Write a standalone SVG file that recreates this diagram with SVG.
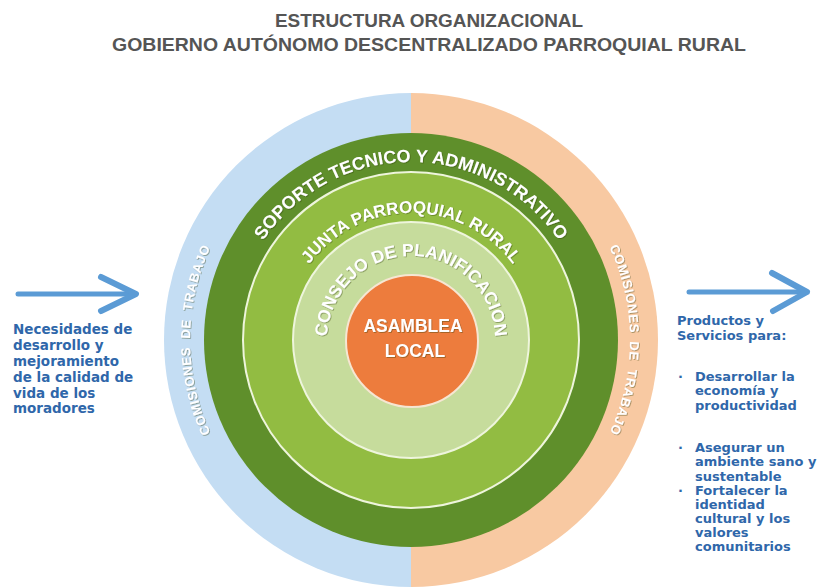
<svg xmlns="http://www.w3.org/2000/svg" width="827" height="587" viewBox="0 0 827 587">
<style>
.title{font-family:"Liberation Sans",Arial,sans-serif;font-weight:bold;font-size:19px;fill:#555555;text-anchor:middle}
.ring{font-family:"Liberation Sans",Arial,sans-serif;font-weight:bold;fill:#ffffff;filter:url(#sh)}
.side{font-family:"DejaVu Sans",Verdana,sans-serif;font-weight:bold;fill:#2f67aa}
.arrow{fill:none;stroke:#5b9bd5;stroke-linecap:round;stroke-linejoin:round}
.sep{fill:none;stroke:#eef5dc;stroke-width:2}
</style>
<defs>
<filter id="sh" x="-10%" y="-10%" width="120%" height="120%">
<feDropShadow dx="0.8" dy="0.8" stdDeviation="0.7" flood-color="#2a3a10" flood-opacity="0.45"/>
</filter>
<clipPath id="leftHalf"><rect x="0" y="0" width="411" height="587"/></clipPath>
<clipPath id="rightHalf"><rect x="411" y="0" width="416" height="587"/></clipPath>
<path id="pSoporte" d="M411,518 A178,178 0 0 1 411,162 A178,178 0 0 1 411,518"/>
<path id="pJunta" d="M411,467 A127,127 0 0 1 411,213 A127,127 0 0 1 411,467"/>
<path id="pConsejo" d="M411,424 A84,84 0 0 1 411,256 A84,84 0 0 1 411,424"/>
<path id="pComL" d="M632,340 A221,221 0 0 1 190,340 A221,221 0 0 1 632,340"/>
<path id="pComR" d="M192,340 A219,219 0 0 1 630,340 A219,219 0 0 1 192,340"/>
</defs>
<rect width="827" height="587" fill="#ffffff"/>

<g id="title">
<text class="title" x="429" y="27" textLength="308" lengthAdjust="spacingAndGlyphs">ESTRUCTURA ORGANIZACIONAL</text>
<text class="title" x="429" y="51" textLength="634" lengthAdjust="spacingAndGlyphs">GOBIERNO AUTÓNOMO DESCENTRALIZADO PARROQUIAL RURAL</text>
</g>

<g id="comisiones">
<circle cx="411" cy="340" r="247" fill="#c4ddf3" clip-path="url(#leftHalf)"/>
<circle cx="411" cy="340" r="247" fill="#f8c9a2" clip-path="url(#rightHalf)"/>
<text class="ring" font-size="13" letter-spacing="0.6" word-spacing="4"><textPath href="#pComL" startOffset="50%" text-anchor="middle">COMISIONES DE TRABAJO</textPath></text>
<text class="ring" font-size="13" letter-spacing="0.6" word-spacing="4"><textPath href="#pComR" startOffset="50%" text-anchor="middle">COMISIONES DE TRABAJO</textPath></text>
</g>

<g id="soporte">
<circle cx="411" cy="340" r="207" fill="#5f8f2b"/>
<text class="ring" font-size="18"><textPath href="#pSoporte" startOffset="50%" text-anchor="middle">SOPORTE TECNICO Y ADMINISTRATIVO</textPath></text>
</g>

<g id="junta">
<circle cx="411" cy="340" r="168" fill="#92bc42"/>
<circle class="sep" cx="411" cy="340" r="168"/>
<text class="ring" font-size="17"><textPath href="#pJunta" startOffset="50%" text-anchor="middle">JUNTA PARROQUIAL RURAL</textPath></text>
</g>

<g id="consejo">
<circle cx="411" cy="340" r="118" fill="#c6dc9c"/>
<circle class="sep" cx="411" cy="340" r="118"/>
<text class="ring" font-size="17.5"><textPath href="#pConsejo" startOffset="50%" text-anchor="middle">CONSEJO DE PLANIFICACION</textPath></text>
</g>

<g id="asamblea">
<circle cx="412" cy="341" r="66" fill="#ed7c3d" stroke="#f6e6d2" stroke-width="2"/>
<text class="ring" font-size="17.5" text-anchor="middle" x="413" y="332">ASAMBLEA</text>
<text class="ring" font-size="17.5" text-anchor="middle" x="415" y="357">LOCAL</text>
</g>

<g id="entrada">
<text class="side" font-size="13.5">
<tspan x="13" y="334">Necesidades de</tspan>
<tspan x="13" y="350">desarrollo y</tspan>
<tspan x="13" y="366">mejoramiento</tspan>
<tspan x="13" y="382">de la calidad de</tspan>
<tspan x="13" y="397.5">vida de los</tspan>
<tspan x="13" y="413">moradores</tspan>
</text>
</g>

<g id="salida">
<text class="side" font-size="13">
<tspan x="677" y="325">Productos y</tspan>
<tspan x="677" y="340">Servicios para:</tspan>
<tspan x="678" y="381">·</tspan><tspan x="695" y="381">Desarrollar la</tspan>
<tspan x="695" y="395">economía y</tspan>
<tspan x="695" y="409.5">productividad</tspan>
<tspan x="678" y="452">·</tspan><tspan x="695" y="452">Asegurar un</tspan>
<tspan x="695" y="466">ambiente sano y</tspan>
<tspan x="695" y="480.5">sustentable</tspan>
<tspan x="678" y="494.5">·</tspan><tspan x="695" y="494.5">Fortalecer la</tspan>
<tspan x="695" y="509">identidad</tspan>
<tspan x="695" y="523">cultural y los</tspan>
<tspan x="695" y="537">valores</tspan>
<tspan x="695" y="551">comunitarios</tspan>
</text>
</g>

<g id="connectors">
<path class="arrow" stroke-width="5" d="M18,294 H133"/>
<path class="arrow" stroke-width="6" d="M101,277 L136,294 L101,311"/>
<path class="arrow" stroke-width="5" d="M689,292 H804"/>
<path class="arrow" stroke-width="6" d="M772,273 L807,292 L773,311"/>
</g>
</svg>
